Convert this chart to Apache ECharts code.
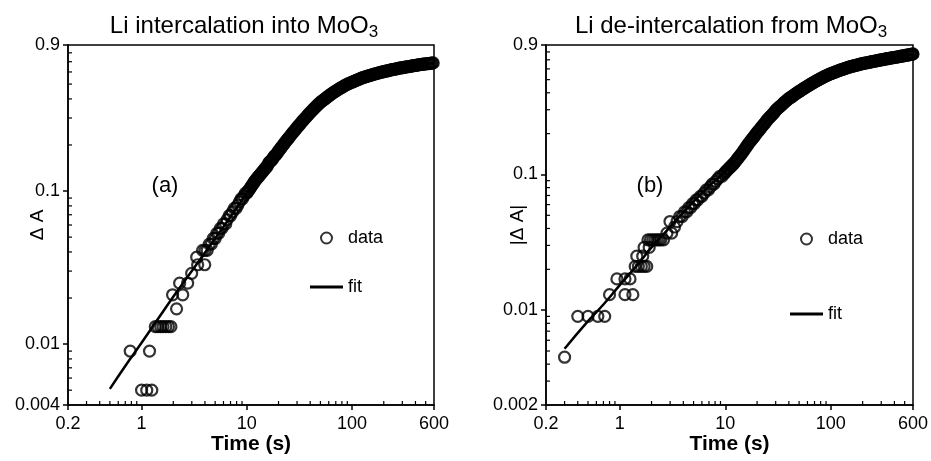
<!DOCTYPE html>
<html>
<head>
<meta charset="utf-8">
<script src="https://cdn.jsdelivr.net/npm/echarts@6/dist/echarts.min.js"></script>
<style>
  html, body { margin: 0; padding: 0; background: #fff; }
  #chart { width: 931px; height: 461px; }
</style>
</head>
<body>
<div id="chart"></div>
<script>
// panel (a): Li intercalation, time (s) vs delta A
const timeA = [0.78, 1.0, 1.12, 1.25, 1.19, 1.35, 1.43, 1.52, 1.6, 1.7, 1.8, 1.9, 2.15, 1.97, 2.46, 2.3, 2.74, 2.99, 3.41, 3.98, 3.34, 3.8,
  4.0, 4.2, 4.4, 4.6, 4.8, 5.0, 5.2, 5.4, 5.6, 5.8, 6.0, 6.3, 6.5, 6.8, 7.0, 7.3, 7.6, 7.9, 8.2, 8.5, 8.8, 9.1, 9.4, 9.7,
  10.0, 10.4, 10.8, 11.2, 11.6, 12.0, 12.5, 13.0, 13.5, 14.0, 14.5, 15.0, 15.6, 16.2, 16.8, 17.5, 18.2, 19.0, 19.8, 20.6,
  21.5, 22.5, 23.5, 24.5, 25.6, 26.8, 28.0, 29.3, 30.7, 32.2, 33.8, 35.5, 37.3, 39.2, 41.2, 43.3, 45.5, 47.8, 50.2, 52.8,
  55.5, 58.4, 61.4, 64.6, 68.0, 71.6, 75.4, 79.4, 83.6, 88.0, 92.7, 97.6, 103, 108, 114, 120, 126, 133, 140, 147, 155, 163,
  172, 181, 191, 201, 212, 223, 235, 247, 260, 274, 289, 304, 320, 337, 355, 374, 394, 415, 437, 460, 484, 510, 537, 565, 590]
const dA = [0.009, 0.005, 0.005, 0.005, 0.009, 0.013, 0.013, 0.013, 0.013, 0.013, 0.013, 0.013, 0.017, 0.021, 0.021, 0.025, 0.025, 0.029, 0.033, 0.033, 0.037, 0.041,
  0.041, 0.041, 0.045, 0.045, 0.049, 0.049, 0.053, 0.053, 0.057, 0.057, 0.061, 0.061, 0.065, 0.069, 0.069, 0.073, 0.077, 0.077, 0.081, 0.085, 0.089, 0.089, 0.093, 0.097,
  0.097, 0.101, 0.105, 0.109, 0.113, 0.117, 0.121, 0.125, 0.129, 0.133, 0.137, 0.141, 0.145, 0.153, 0.157, 0.161, 0.169, 0.173, 0.181, 0.187,
  0.195, 0.203, 0.211, 0.219, 0.227, 0.237, 0.245, 0.255, 0.265, 0.275, 0.287, 0.297, 0.309, 0.321, 0.333, 0.345, 0.357, 0.369, 0.381, 0.391,
  0.401, 0.413, 0.423, 0.435, 0.445, 0.455, 0.465, 0.475, 0.485, 0.495, 0.503, 0.511, 0.519, 0.527, 0.535, 0.543, 0.551, 0.557, 0.563, 0.569, 0.575, 0.581,
  0.587, 0.593, 0.599, 0.603, 0.609, 0.613, 0.619, 0.623, 0.627, 0.633, 0.637, 0.641, 0.645, 0.649, 0.653, 0.657, 0.661, 0.665, 0.669, 0.673, 0.675, 0.679, 0.681, 0.685, 0.687]
// the dense part of the band holds more readings in between
const timeA2 = [10.2, 10.6, 11.0, 11.4, 11.8, 12.25, 12.75, 13.25, 13.75, 14.25, 14.75, 15.3, 15.9, 16.5, 17.15, 17.85, 18.6, 19.4, 20.2, 21.05,
  22.0, 23.0, 24.0, 25.05, 26.2, 27.4, 28.65, 30.0, 31.45, 33.0, 34.65, 36.4, 38.25, 40.2, 42.25, 44.4, 46.65, 49.0, 51.5, 54.15,
  56.95, 59.9, 63.0, 66.3, 69.8, 73.5, 77.4, 81.5, 85.8, 90.35, 95.15, 100.3, 105.5, 111, 117, 123, 129.5, 136.5, 143.5, 151,
  159, 167.5, 176.5, 186, 196, 206.5, 217.5, 229, 241, 253.5, 267, 281.5, 296.5, 312, 328.5, 346, 364.5, 384, 404.5, 426, 448.5, 472, 497, 523.5, 551, 577.5]
const dA2 = [0.099, 0.103, 0.107, 0.111, 0.115, 0.119, 0.123, 0.127, 0.131, 0.135, 0.139, 0.143, 0.149, 0.155, 0.159, 0.165, 0.171, 0.177, 0.184, 0.191,
  0.199, 0.207, 0.215, 0.223, 0.232, 0.241, 0.250, 0.260, 0.270, 0.281, 0.292, 0.303, 0.315, 0.327, 0.339, 0.351, 0.363, 0.375, 0.386, 0.396,
  0.407, 0.418, 0.429, 0.440, 0.450, 0.460, 0.470, 0.480, 0.490, 0.499, 0.507, 0.515, 0.523, 0.531, 0.539, 0.547, 0.554, 0.560, 0.566, 0.572,
  0.578, 0.584, 0.590, 0.596, 0.601, 0.606, 0.611, 0.616, 0.621, 0.625, 0.630, 0.635, 0.639, 0.643, 0.647, 0.651, 0.655, 0.659, 0.663, 0.667, 0.671, 0.674, 0.677, 0.680, 0.683, 0.686]
const fitTimeA = [0.5, 0.7, 1, 1.5, 2, 3, 5, 7, 10, 15, 20, 30, 50, 70, 100, 150, 200, 300, 400, 600]
const fitA = [0.0051, 0.0072, 0.0102, 0.0153, 0.0204, 0.030, 0.049, 0.068, 0.097, 0.141, 0.183, 0.262, 0.375, 0.45, 0.515, 0.572, 0.604, 0.643, 0.662, 0.687]

// panel (b): Li de-intercalation, time (s) vs |delta A|
const timeB = [0.30, 0.40, 0.50, 0.62, 0.72, 0.80, 1.12, 1.33, 0.94, 1.12, 1.25, 1.40, 1.5, 1.6, 1.7, 1.8, 1.45, 1.65, 1.7, 1.9,
  1.85, 1.95, 2.05, 2.15, 2.25, 2.35, 2.45, 2.6, 3.1, 2.99, 3.49, 2.8, 3.3,
  3.7, 3.9, 4.1, 4.3, 4.5, 4.7, 4.9, 5.1, 5.3, 5.5, 5.8, 6.0, 6.3, 6.6, 6.9, 7.2, 7.5, 7.8, 8.1, 8.5, 8.9, 9.3, 9.7,
  10.1, 10.6, 11.1, 11.6, 12.1, 12.7, 13.3, 13.9, 14.5, 15.2, 15.9, 16.6, 17.4, 18.2, 19.0, 19.9, 20.8, 21.8, 22.8, 23.9,
  25.0, 26.2, 27.4, 28.7, 30.0, 31.4, 32.9, 34.5, 36.1, 37.8, 39.6, 41.5, 43.5, 45.6, 47.8, 50.1, 52.5, 55.0, 57.6, 60.4,
  63.3, 66.3, 69.5, 72.8, 76.3, 80.0, 83.8, 87.8, 92.0, 96.4, 101, 106, 111, 116, 122, 128, 134, 140, 147, 154, 161, 169,
  177, 186, 195, 204, 214, 224, 235, 246, 258, 270, 283, 297, 311, 326, 342, 358, 375, 393, 412, 432, 452, 474, 497, 521, 546, 572, 595]
const dB = [0.0045, 0.009, 0.009, 0.009, 0.009, 0.013, 0.013, 0.013, 0.017, 0.017, 0.017, 0.021, 0.021, 0.021, 0.021, 0.021, 0.025, 0.025, 0.029, 0.029,
  0.033, 0.033, 0.033, 0.033, 0.033, 0.033, 0.033, 0.033, 0.037, 0.045, 0.045, 0.037, 0.041,
  0.049, 0.049, 0.053, 0.053, 0.057, 0.057, 0.061, 0.061, 0.065, 0.065, 0.069, 0.069, 0.073, 0.077, 0.077, 0.081, 0.085, 0.085, 0.089, 0.093, 0.097, 0.097, 0.101,
  0.105, 0.109, 0.113, 0.117, 0.121, 0.127, 0.133, 0.139, 0.145, 0.153, 0.161, 0.169, 0.177, 0.185, 0.193, 0.203, 0.211, 0.221, 0.231, 0.241,
  0.253, 0.263, 0.273, 0.283, 0.297, 0.307, 0.317, 0.327, 0.339, 0.349, 0.361, 0.369, 0.379, 0.389, 0.399, 0.409, 0.419, 0.429, 0.439, 0.449,
  0.459, 0.469, 0.479, 0.489, 0.499, 0.509, 0.519, 0.529, 0.537, 0.547, 0.555, 0.563, 0.571, 0.579, 0.587, 0.595, 0.601, 0.609, 0.617, 0.623, 0.629, 0.635,
  0.641, 0.647, 0.653, 0.659, 0.663, 0.669, 0.673, 0.679, 0.683, 0.689, 0.693, 0.699, 0.703, 0.709, 0.713, 0.717, 0.723, 0.727, 0.731, 0.737, 0.741, 0.747, 0.751, 0.757, 0.761, 0.767, 0.771]
const timeB2 = [9.9, 10.35, 10.85, 11.35, 11.85, 12.4, 13.0, 13.6, 14.2, 14.85, 15.55, 16.25, 17.0, 17.8, 18.6, 19.45, 20.35, 21.3, 22.3, 23.35,
  24.45, 25.6, 26.8, 28.05, 29.35, 30.7, 32.15, 33.7, 35.3, 36.95, 38.7, 40.55, 42.5, 44.55, 46.7, 48.95, 51.3, 53.75, 56.3, 59.0,
  61.85, 64.8, 67.9, 71.15, 74.55, 78.15, 81.9, 85.8, 89.9, 94.2, 98.7, 103.5, 108.5, 113.5, 119, 125, 131, 137, 143.5, 150.5,
  157.5, 165, 173, 181.5, 190.5, 199.5, 209, 219, 229.5, 240.5, 252, 264, 276.5, 290, 304, 318.5, 334, 350, 366.5, 384, 402.5, 422, 442, 463, 485.5, 509, 533.5, 559, 583.5, 600]
const dB2 = [0.103, 0.107, 0.111, 0.115, 0.119, 0.124, 0.130, 0.136, 0.142, 0.149, 0.157, 0.165, 0.173, 0.181, 0.189, 0.198, 0.207, 0.216, 0.226, 0.236,
  0.247, 0.258, 0.268, 0.278, 0.290, 0.302, 0.312, 0.322, 0.333, 0.344, 0.355, 0.365, 0.374, 0.384, 0.394, 0.404, 0.414, 0.424, 0.434, 0.444,
  0.454, 0.464, 0.474, 0.484, 0.494, 0.504, 0.514, 0.524, 0.533, 0.542, 0.551, 0.559, 0.567, 0.575, 0.583, 0.591, 0.598, 0.605, 0.613, 0.620,
  0.626, 0.632, 0.638, 0.644, 0.650, 0.656, 0.661, 0.666, 0.671, 0.676, 0.681, 0.686, 0.691, 0.696, 0.701, 0.706, 0.711, 0.715, 0.720, 0.725, 0.729, 0.734, 0.739, 0.744, 0.749, 0.754, 0.759, 0.764, 0.769, 0.774]
const fitTimeB = [0.30, 0.5, 0.7, 1, 1.5, 2, 3, 5, 7, 10, 15, 20, 30, 50, 75, 100, 150, 200, 300, 400, 600]
const fitB = [0.0052, 0.0083, 0.011, 0.0153, 0.022, 0.029, 0.041, 0.063, 0.082, 0.106, 0.152, 0.203, 0.297, 0.41, 0.495, 0.553, 0.62, 0.656, 0.699, 0.729, 0.771]

// axis ranges and minor tick positions
const xMin = 0.2, xMax = 600
const yMinA = 0.004, yMinB = 0.002, yMax = 0.9
const xMinor = [0.3, 0.4, 0.5, 0.6, 0.7, 0.8, 0.9, 2, 3, 4, 5, 6, 7, 8, 9, 20, 30, 40, 50, 60, 70, 80, 90, 200, 300, 400, 500]
const yMinorA = [0.005, 0.006, 0.007, 0.008, 0.009, 0.02, 0.03, 0.04, 0.05, 0.06, 0.07, 0.08, 0.09, 0.2, 0.3, 0.4, 0.5, 0.6, 0.7, 0.8]
const yMinorB = [0.003, 0.004, 0.005, 0.006, 0.007, 0.008, 0.009, 0.02, 0.03, 0.04, 0.05, 0.06, 0.07, 0.08, 0.09, 0.2, 0.3, 0.4, 0.5, 0.6, 0.7, 0.8]

const FONT = '"Liberation Sans", Arial, sans-serif'
const zip = (a, b) => a.map((v, i) => [v, b[i]])

const chart = echarts.init(document.getElementById('chart'), null, { renderer: 'canvas' })

function xAxisOpt (gridIndex) {
  return {
    type: 'log',
    gridIndex,
    min: xMin,
    max: xMax,
    name: 'Time (s)',
    nameLocation: 'middle',
    nameGap: 29,
    nameMoveOverlap: false,
    nameTextStyle: { color: '#000', fontSize: 21, fontWeight: 'bold', fontFamily: FONT },
    axisLine: { lineStyle: { color: '#000', width: 1.5 } },
    axisTick: { inside: false, length: 5, lineStyle: { color: '#000', width: 1.5 } },
    axisLabel: { color: '#000', fontSize: 18, fontFamily: FONT, margin: 10 },
    splitLine: { show: false }
  }
}

function yAxisOpt (gridIndex, min, name, gap) {
  return {
    type: 'log',
    gridIndex,
    min,
    max: yMax,
    name,
    nameLocation: 'middle',
    nameGap: gap,
    nameMoveOverlap: false,
    nameTextStyle: { color: '#000', fontSize: 19, fontFamily: FONT },
    axisLine: { lineStyle: { color: '#000', width: 1.5 } },
    axisTick: { inside: false, length: 5, lineStyle: { color: '#000', width: 1.5 } },
    axisLabel: { color: '#000', fontSize: 18, fontFamily: FONT, margin: 8 },
    splitLine: { show: false }
  }
}

// small inward ticks between decades, placed with the axis scale
function minorTickSeries (idx, values, dir, other) {
  return {
    type: 'custom',
    xAxisIndex: idx,
    yAxisIndex: idx,
    silent: true,
    clip: false,
    z: 5,
    data: values.map(v => dir === 'x' ? [v, other] : [other, v]),
    renderItem: (params, api) => {
      const p = api.coord([api.value(0), api.value(1)])
      const shape = dir === 'x'
        ? { x1: p[0], y1: p[1], x2: p[0], y2: p[1] - 4 }
        : { x1: p[0], y1: p[1], x2: p[0] + 4, y2: p[1] }
      return { type: 'line', shape, style: { stroke: '#000', lineWidth: 1.2 } }
    }
  }
}

const dataStyle = {
  type: 'scatter',
  name: 'data',
  symbol: 'circle',
  symbolSize: 11,
  itemStyle: { color: 'rgba(0,0,0,0)', borderColor: '#000', borderWidth: 2.2 },
  emphasis: { disabled: true },
  z: 3
}
const fitStyle = {
  type: 'line',
  name: 'fit',
  smooth: true,
  symbol: 'none',
  showSymbol: false,
  color: '#000',
  lineStyle: { color: '#000', width: 2.5 },
  emphasis: { disabled: true },
  z: 2
}

const legendBase = {
  orient: 'vertical',
  itemWidth: 33,
  itemHeight: 11,
  data: [
    { name: 'data' },
    { name: 'fit', icon: 'path://M0,0 L33,0 L33,3 L0,3 Z', itemStyle: { color: '#000' } }
  ],
  selectedMode: false,
  textStyle: { color: '#000', fontSize: 18, fontFamily: FONT }
}

const subTitle = (text, x) => ({
  type: 'text',
  x,
  y: 26,
  style: {
    text,
    fill: '#000',
    fontSize: 24,
    fontFamily: FONT,
    align: 'center',
    verticalAlign: 'middle',
    rich: {
      s: { fontSize: 17, fontFamily: FONT, fill: '#000', padding: [12, 0, 0, 0], verticalAlign: 'bottom' }
    }
  }
})

chart.setOption({
  backgroundColor: '#fff',
  animation: false,
  grid: [
    { left: 68, top: 45, width: 366, height: 360, show: true, borderColor: '#000', borderWidth: 1.5, outerBoundsMode: 'none' },
    { left: 546, top: 45, width: 367, height: 360, show: true, borderColor: '#000', borderWidth: 1.5, outerBoundsMode: 'none' }
  ],
  xAxis: [xAxisOpt(0), xAxisOpt(1)],
  yAxis: [yAxisOpt(0, yMinA, 'Δ A', 21), yAxisOpt(1, yMinB, '|Δ A|', 19)],
  legend: [
    Object.assign({ left: 305, top: 224, itemGap: 31 }, legendBase),
    Object.assign({ left: 785, top: 225, itemGap: 57 }, legendBase)
  ],
  graphic: [
    subTitle('Li intercalation into MoO{s|3}', 244),
    subTitle('Li de-intercalation from MoO{s|3}', 731),
    { type: 'text', x: 165, y: 186, style: { text: '(a)', fill: '#000', fontSize: 22, fontFamily: FONT, align: 'center', verticalAlign: 'middle' } },
    { type: 'text', x: 650, y: 186, style: { text: '(b)', fill: '#000', fontSize: 22, fontFamily: FONT, align: 'center', verticalAlign: 'middle' } }
  ],
  series: [
    Object.assign({ xAxisIndex: 0, yAxisIndex: 0, data: zip(fitTimeA, fitA) }, fitStyle),
    Object.assign({ xAxisIndex: 0, yAxisIndex: 0, data: zip(timeA, dA).concat(zip(timeA2, dA2)) }, dataStyle),
    Object.assign({ xAxisIndex: 1, yAxisIndex: 1, data: zip(fitTimeB, fitB) }, fitStyle),
    Object.assign({ xAxisIndex: 1, yAxisIndex: 1, data: zip(timeB, dB).concat(zip(timeB2, dB2)) }, dataStyle),
    minorTickSeries(0, xMinor, 'x', yMinA),
    minorTickSeries(0, yMinorA, 'y', xMin),
    minorTickSeries(1, xMinor, 'x', yMinB),
    minorTickSeries(1, yMinorB, 'y', xMin)
  ]
})
window.addEventListener('resize', () => { chart.resize() })
</script>
</body>
</html>
